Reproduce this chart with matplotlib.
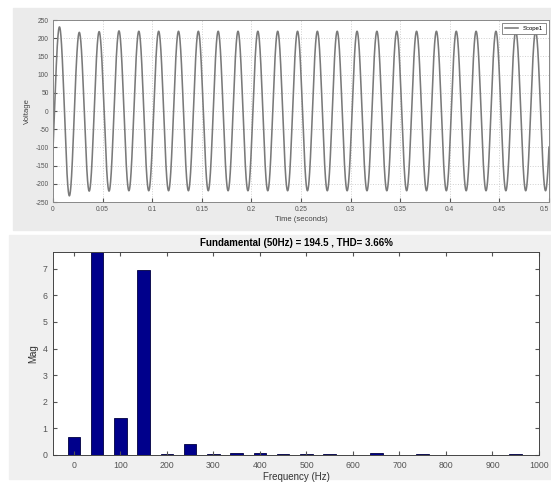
import numpy as np
import matplotlib
matplotlib.use("Agg")
import matplotlib.pyplot as plt
from matplotlib.patches import Rectangle

# scope trace: peak / trough voltage of each 50 Hz cycle (0 .. 0.5 s)
cycle_peaks = [231, 216, 218, 220, 219, 219, 219, 219, 219, 219, 219, 219, 219,
               219, 219, 219, 219, 219, 219, 219, 219, 219, 219, 219, 219]
cycle_troughs = [-233, -220, -220, -219, -219, -219, -219, -219, -219, -219, -219, -219, -219,
                 -219, -219, -219, -219, -219, -219, -219, -219, -219, -219, -219, -219]
line_freq = 50
phase_delay = 0.0015

# FFT bars
freqs = [0, 50, 100, 150, 200, 250, 300, 350, 400, 450, 500,
         550, 600, 650, 700, 750, 800, 850, 900, 950]
mags = [0.67, 100, 1.38, 6.95, 0.05, 0.42, 0.03, 0.07, 0.06, 0.05, 0.03,
        0.05, 0.01, 0.08, 0.01, 0.05, 0.01, 0.01, 0.01, 0.03]
fft_title = "Fundamental (50Hz) = 194.5 , THD= 3.66%"

plt.rcParams["font.family"] = ["Liberation Sans", "DejaVu Sans"]
plt.rcParams["axes.unicode_minus"] = False

fig = plt.figure(figsize=(5.51, 4.82), dpi=100)
W, H = 551.0, 482.0

# panel backgrounds
fig.patches.append(Rectangle((13 / W, 1 - 230 / H), (W - 13) / W, 222 / H,
                             transform=fig.transFigure, color="#ebebeb", zorder=-5))
fig.patches.append(Rectangle((9 / W, 1 - 479 / H), (W - 9) / W, 244 / H,
                             transform=fig.transFigure, color="#f0f0f0", zorder=-5))

# ---- top: scope ----
ax1 = fig.add_axes([53 / W, 1 - 202 / H, 496 / W, 182 / H])
ax1.set_facecolor("white")
t = np.linspace(0, 0.5, 10001)
s = np.sin(2 * np.pi * line_freq * (t - phase_delay))
cyc = np.clip(((t - phase_delay) * line_freq).astype(int), 0, len(cycle_peaks) - 1)
amp = np.where(s >= 0, np.array(cycle_peaks)[cyc], -np.array(cycle_troughs)[cyc])
v = amp * s
ax1.plot(t, v, color="#7a7a7a", linewidth=1.15, label="Scope1")
ax1.set_xlim(0, 0.5)
ax1.set_ylim(-250, 250)
ax1.set_xticks(np.arange(0, 0.501, 0.05))
ax1.set_xticklabels(["0", "0.05", "0.1", "0.15", "0.2", "0.25", "0.3", "0.35", "0.4", "0.45", "0.5"])
ax1.get_xticklabels()[-1].set_horizontalalignment("right")
ax1.set_yticks(np.arange(-250, 251, 50))
ax1.grid(True, color="#d0d0d0", linestyle=":", linewidth=0.7)
ax1.tick_params(direction="in", length=3, labelsize=4.8, colors="#555555", pad=3)
for sp in ax1.spines.values():
    sp.set_color("#888888")
    sp.set_linewidth(0.7)
ax1.set_xlabel("Time (seconds)", fontsize=5.5, color="#444444", labelpad=2)
ax1.set_ylabel("Voltage", fontsize=5.5, color="#444444", labelpad=3)
leg = ax1.legend(loc="upper right", fontsize=4.3, handlelength=2.2,
                 borderpad=0.45, framealpha=1, fancybox=False, edgecolor="#777777")
leg.get_frame().set_linewidth(0.6)

# ---- bottom: FFT ----
ax2 = fig.add_axes([53 / W, 1 - 455 / H, 486 / W, 203 / H])
ax2.set_facecolor("white")
ax2.bar(freqs, mags, width=27, color="#00008b", edgecolor="#000040", linewidth=0.6)
ax2.set_xlim(-45, 1000)
ax2.set_ylim(0, 7.63)
ax2.set_xticks(range(0, 1001, 100))
ax2.set_yticks(range(0, 8))
ax2.tick_params(direction="in", length=3, labelsize=6.3, colors="#555555",
                top=True, right=True, pad=4)
for sp in ax2.spines.values():
    sp.set_color("#444444")
    sp.set_linewidth(0.7)
ax2.set_title(fft_title, fontsize=7, fontweight="bold", pad=4)
ax2.set_xlabel("Frequency (Hz)", fontsize=7, color="#333333", labelpad=2)
ax2.set_ylabel("Mag", fontsize=7, color="#333333", labelpad=3)

fig.savefig("out.png", dpi=100, facecolor="white")
